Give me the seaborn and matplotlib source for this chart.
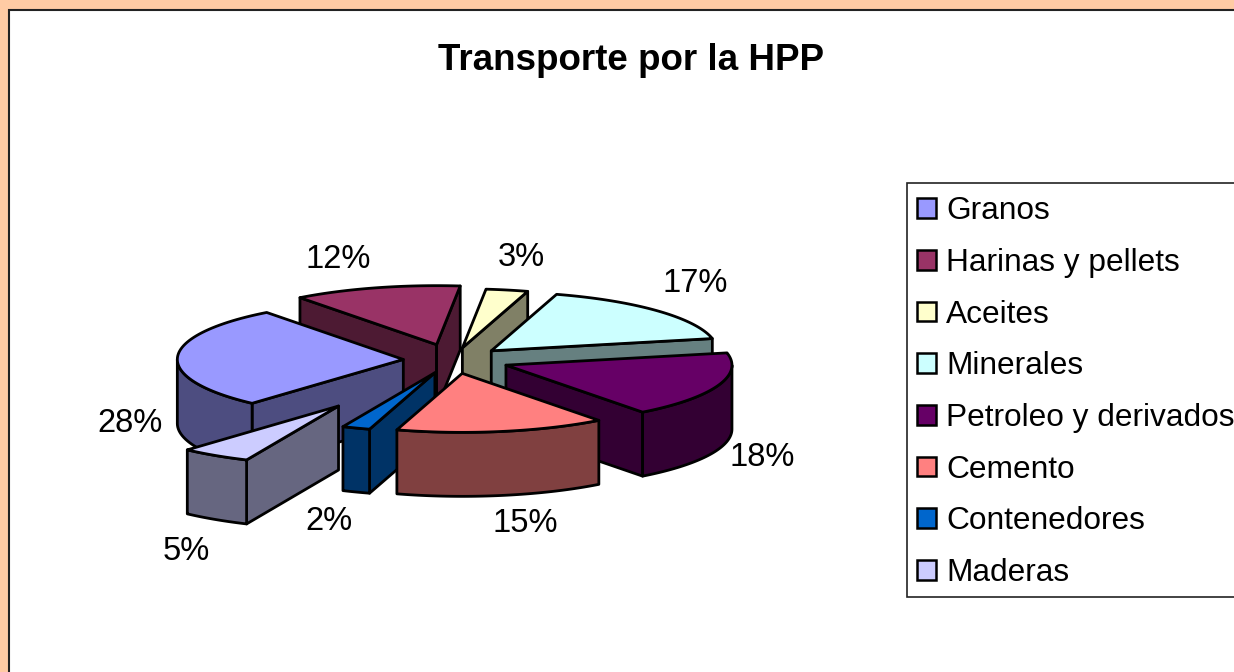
import numpy as np
import seaborn as sns
import matplotlib
matplotlib.use('Agg')
import matplotlib.pyplot as plt
from matplotlib.patches import Patch, Rectangle

# Chart data
TITLE = 'Transporte por la HPP'
categories = ['Granos', 'Harinas y pellets', 'Aceites', 'Minerales',
              'Petroleo y derivados', 'Cemento', 'Contenedores', 'Maderas']
values = [28, 12, 3, 17, 18, 15, 2, 5]
slice_colors = ['#9999FF', '#993366', '#FFFFCC', '#CCFFFF',
                '#660066', '#FF8080', '#0066CC', '#CCCCFF']
explode = [0.22, 0.27, 0.21, 0.23, 0.25, 0.23, 0.23, 0.93]

# Where the fake 3d pie sits, in pixels
CX, CY = 453, 360
RX, RY = 226, 59
DEPTH = 64
START = 222  # clockwise from 12 o'clock

# Percent labels, centre of each text
label_pos = [(130, 423), (338, 260), (521, 258), (695, 283),
             (762, 458), (525, 524), (329, 521), (186, 551)]

sns.set_theme(style='white')
plt.rcParams['font.family'] = ['Liberation Sans', 'DejaVu Sans']
palette = sns.color_palette(slice_colors)


def darker(color):
    return tuple(c * 0.5 for c in color)


def on_ellipse(angle):
    a = np.radians(angle)
    return RX * np.sin(a), -RY * np.cos(a)


def wall(ax, xs, ys, color, z):
    xs = np.asarray(xs)
    ys = np.asarray(ys)
    ax.fill(np.r_[xs, xs[::-1]], np.r_[ys, ys[::-1] + DEPTH], facecolor=color,
            edgecolor='black', linewidth=2, joinstyle='round', zorder=z)


def radial_visible(tip, edge, mid):
    # a radial wall shows when the slice lies above that edge on screen
    dx, dy = edge[0] - tip[0], edge[1] - tip[1]
    cross = dx * (mid[1] - tip[1]) - dy * (mid[0] - tip[0])
    return cross / dx < 0


fig, ax = plt.subplots(figsize=(12.34, 6.72), dpi=100)
fig.subplots_adjust(0, 0, 1, 1)
fig.patch.set_facecolor('#FFCBA4')
ax.set_xlim(0, 1234)
ax.set_ylim(672, 0)
ax.axis('off')
ax.add_patch(Rectangle((9, 10), 1300, 700, facecolor='white', edgecolor='#222222',
                       linewidth=1.5, zorder=0))

# Build slices then paint back to front
edges = START + np.cumsum([0] + values) * 3.6
slices = []
for i, v in enumerate(values):
    a0, a1 = edges[i], edges[i + 1]
    mid = (a0 + a1) / 2
    mx, my = on_ellipse(mid)
    tip = (CX + explode[i] * mx, CY + explode[i] * my)
    slices.append((tip[1] + 0.5 * my, i, a0, a1, mid, tip))

for z, (_, i, a0, a1, mid, tip) in enumerate(sorted(slices), start=2):
    color = palette[i]
    dark = darker(color)
    arc = np.linspace(a0, a1, 60)
    ax_pts = [on_ellipse(a) for a in arc]
    xs = tip[0] + np.array([p[0] for p in ax_pts])
    ys = tip[1] + np.array([p[1] for p in ax_pts])
    mid_pt = (tip[0] + 0.6 * on_ellipse(mid)[0], tip[1] + 0.6 * on_ellipse(mid)[1])

    for px, py in [(xs[0], ys[0]), (xs[-1], ys[-1])]:
        if radial_visible(tip, (px, py), mid_pt):
            wall(ax, [tip[0], px], [tip[1], py], dark, z)

    # outer rim, only the part facing the viewer
    front = (np.mod(arc, 360) > 90) & (np.mod(arc, 360) < 270)
    if front.any():
        wall(ax, xs[front], ys[front], dark, z)

    ax.fill(np.r_[tip[0], xs], np.r_[tip[1], ys], facecolor=color, edgecolor='black',
            linewidth=2, joinstyle='round', zorder=z)

for v, (x, y) in zip(values, label_pos):
    ax.text(x, y, '%d%%' % v, ha='center', va='center', fontsize=23.5, color='black', zorder=30)

ax.text(631, 61, TITLE, ha='center', va='center', fontsize=26.5, fontweight='bold',
        color='black', zorder=30)

# legend frame runs off the right side of the picture, so it is drawn on its own
ax.add_patch(Rectangle((907, 183), 400, 414, facecolor='white', edgecolor='#222222',
                       linewidth=1.2, zorder=29))
handles = [Patch(facecolor=c, edgecolor='black', linewidth=1.8) for c in palette]
leg = ax.legend(handles, categories, loc='upper left', bbox_to_anchor=(904, 183),
                bbox_transform=ax.transData, borderaxespad=0, frameon=False,
                labelcolor='black', fontsize=22.8, labelspacing=0.685,
                handlelength=0.58, handleheight=0.58, handletextpad=0.34, borderpad=0.42)
leg.set_zorder(30)

fig.savefig('out.png', dpi=100, facecolor=fig.get_facecolor())
